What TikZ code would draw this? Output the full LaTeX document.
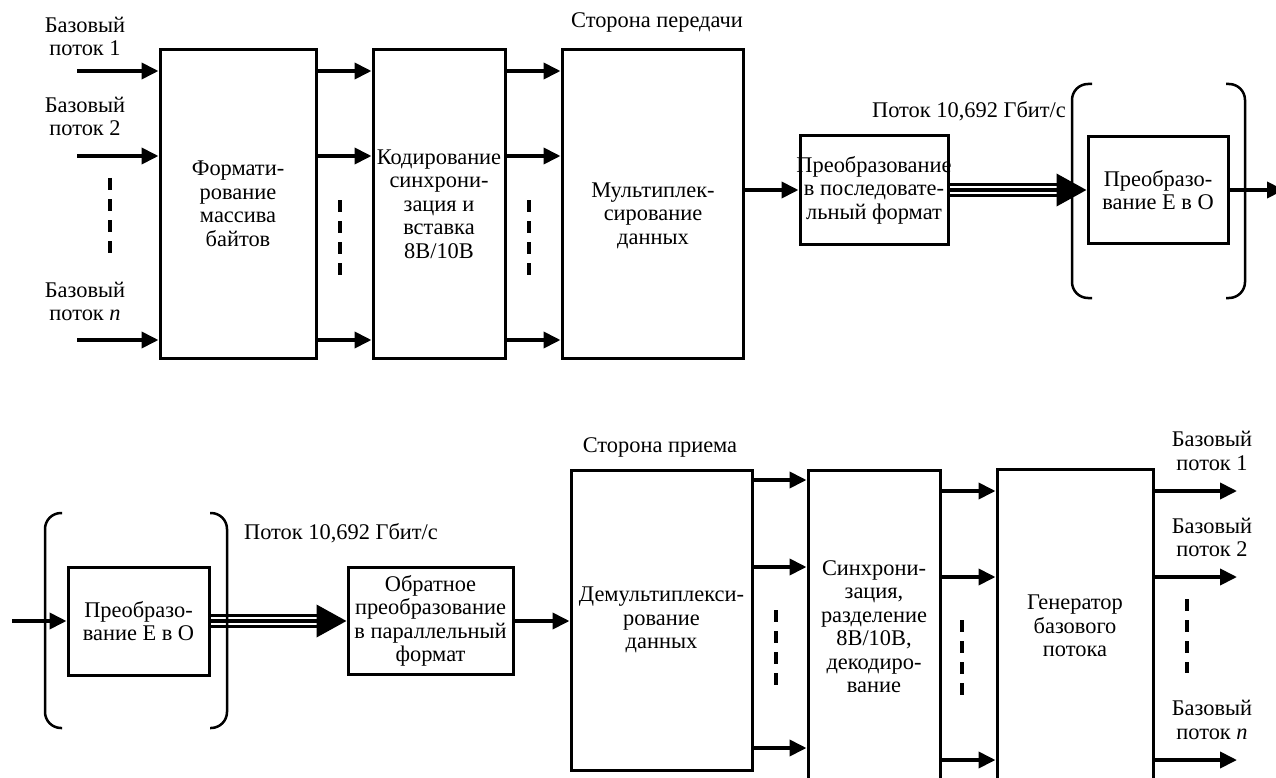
\documentclass[tikz,border=0pt]{standalone}
\usepackage{fontspec}
\setmainfont{Liberation Serif}
\usetikzlibrary{arrows.meta,calc}
\hyphenpenalty=10000
\begin{document}
\begin{tikzpicture}[x=1pt,y=-1pt,
  font=\fontsize{22.4}{23.5}\selectfont,
  blk/.style={draw, rectangle, line width=3pt, inner xsep=-12pt, inner ysep=0pt, align=center},
  arr/.style={line width=3.8pt, -{Triangle[length=17pt,width=16pt]}},
  tri/.style={line width=3.9pt},
  dsh/.style={line width=4pt, dash pattern=on 12pt off 9pt},
  brk/.style={line width=2.5pt, rounded corners=16pt},
  lbl/.style={align=center, inner sep=0pt}]
\useasboundingbox (0,0) rectangle (1276,778);
\clip (0,0) rectangle (1276,778);

% ---------------- transmit side ----------------
\node[lbl] (tx) at (657,22) {Сторона передачи};
\node[blk, minimum width=156pt, minimum height=308pt] (fmt) at (238,204) {Формати-\\рование\\массива\\байтов};
\node[blk, minimum width=132pt, minimum height=308pt] (cod) at (439,204) {Кодирование\\синхрони-\\зация и\\вставка\\8B/10B};
\node[blk, minimum width=181pt, minimum height=308pt] (mux) at (652.5,204) {};
\node[lbl] (muxT) at (653,215.5) {Мультиплек-\\сирование\\данных};
\node[blk, minimum width=148pt, minimum height=108pt] (ser) at (874,190) {Преобразование\\в последовате-\\льный формат};
\node[blk, minimum width=140pt, minimum height=107pt] (eo1) at (1158,190) {Преобразо-\\вание Е в О};

\node[lbl] (l1) at (85,36.5) {Базовый\\поток 1};
\node[lbl] (l2) at (85,116.5) {Базовый\\поток 2};
\node[lbl] (l3) at (85,301.5) {Базовый\\поток \textit{n}};
\node[lbl] (rate1) at (969,111) {Поток 10,692 Гбит/с};

\coordinate (i1) at (77,71);
\coordinate (i2) at (77,156);
\coordinate (i3) at (77,340);
\foreach \c in {i1,i2,i3}{
  \draw[arr] (\c) -- (\c -| fmt.west);
  \draw[arr] (fmt.east |- \c) -- (cod.west |- \c);
  \draw[arr] (cod.east |- \c) -- (mux.west |- \c);
}
\draw[dsh] (110,178) -- (110,253);
\draw[dsh] (340,200) -- (340,275);
\draw[dsh] (529,200) -- (529,275);

\draw[arr] (mux.east |- ser.west) -- (ser.west);
\draw[tri, -{Triangle[length=30pt,width=32pt]}] (ser.east) -- (ser.east -| eo1.west);
\draw[tri, shorten >=26pt, transform canvas={yshift=5.5pt}] (ser.east) -- (ser.east -| eo1.west);
\draw[tri, shorten >=26pt, transform canvas={yshift=-5.5pt}] (ser.east) -- (ser.east -| eo1.west);
\coordinate (o1) at (1284,190);
\draw[arr] (eo1.east) -- (o1);

\draw[brk] (1092,84) -- (1072,84) -- (1072,298) -- (1092,298);
\draw[brk] (1226,84) -- (1245,84) -- (1245,298) -- (1226,298);

% ---------------- receive side ----------------
\node[lbl] (rx) at (660,447) {Сторона приема};
\node[blk, minimum width=141pt, minimum height=108pt] (eo2) at (138.5,621) {Преобразо-\\вание Е в О};
\node[blk, minimum width=165pt, minimum height=107pt] (obr) at (430.5,621) {Обратное\\преобразование\\в параллельный\\формат};
\node[blk, minimum width=181pt, minimum height=300pt] (dmx) at (661.5,620) {Демультиплекси-\\рование\\данных};
\node[blk, minimum width=132pt, minimum height=313pt] (syn) at (874,626.5) {Синхрони-\\зация,\\разделение\\8B/10B,\\декодиро-\\вание};
\node[blk, minimum width=156pt, minimum height=314pt] (gen) at (1075,626) {Генератор\\базового\\потока};

\node[lbl] (rate2) at (341,533) {Поток 10,692 Гбит/с};
\node[lbl] (r1l) at (1212,451) {Базовый\\поток 1};
\node[lbl] (r2l) at (1212,537.5) {Базовый\\поток 2};
\node[lbl] (r3l) at (1212,720) {Базовый\\поток \textit{n}};

\coordinate (b0) at (12,621);
\draw[arr] (b0) -- (eo2.west);
\draw[tri, -{Triangle[length=30pt,width=32pt]}] (eo2.east) -- (obr.west);
\draw[tri, shorten >=26pt, transform canvas={yshift=5.5pt}] (eo2.east) -- (obr.west);
\draw[tri, shorten >=26pt, transform canvas={yshift=-5.5pt}] (eo2.east) -- (obr.west);
\draw[arr] (obr.east) -- (obr.east -| dmx.west);

\draw[brk] (62,513) -- (45,513) -- (45,728) -- (62,728);
\draw[brk] (210,513) -- (227,513) -- (227,728) -- (210,728);

\coordinate (r1) at (0,480);
\coordinate (r2) at (0,567);
\coordinate (r3) at (0,748);
\foreach \c in {r1,r2,r3}{
  \draw[arr] (dmx.east |- \c) -- (syn.west |- \c);
}
\coordinate (q1) at (1237,491);
\coordinate (q2) at (1237,577);
\coordinate (q3) at (1237,760);
\foreach \c in {q1,q2,q3}{
  \draw[arr] (syn.east |- \c) -- (gen.west |- \c);
  \draw[arr] (gen.east |- \c) -- (\c);
}
\draw[dsh] (776,610) -- (776,685);
\draw[dsh] (962,620) -- (962,695);
\draw[dsh] (1187,599) -- (1187,673);
\end{tikzpicture}
\end{document}
